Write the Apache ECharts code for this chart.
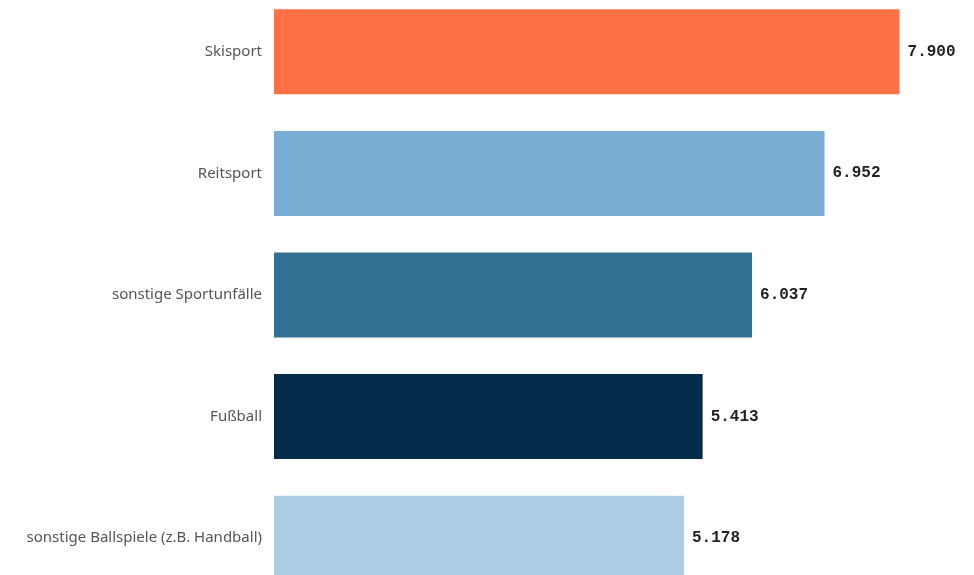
<!DOCTYPE html>
<html><head><meta charset="utf-8">
<script src="https://cdn.jsdelivr.net/npm/echarts@6/dist/echarts.min.js"></script>
<style>html,body{margin:0;padding:0;background:#fff;overflow:hidden;width:974px;height:575px}#c{position:absolute;left:0;top:-9px;width:974px;height:608px}</style>
</head><body><div id="c"></div>
<script>
const categories = ["Skisport","Reitsport","sonstige Sportunfälle","Fußball","sonstige Ballspiele (z.B. Handball)"];
const values = [7.900, 6.952, 6.037, 5.413, 5.178];
const labels = ["7.900","6.952","6.037","5.413","5.178"];
const colors = ["#ff7045","#78acd2","#327194","#022c4a","#abcee4"];

const chart = echarts.init(document.getElementById('c'));
chart.setOption({
  animation:false,
  grid:{left:274, right:0, top:0, bottom:0, containLabel:false},
  xAxis:{type:'value', min:0, max:8.84, show:false},
  yAxis:{type:'category', data:categories, inverse:true,
    axisLine:{show:false}, axisTick:{show:false},
    axisLabel:{color:'#555', fontSize:15, fontFamily:'"Noto Sans", "Open Sans", sans-serif', margin:12}},
  series:[{type:'bar', barWidth:85,
    data: values.map((v,i)=>({value:v, itemStyle:{color:colors[i]}, label:{formatter:labels[i]}})),
    label:{show:true, position:'right', distance:8, color:'#222', fontSize:16, fontWeight:'bold',
      fontFamily:'"Liberation Mono", "DejaVu Sans Mono", monospace'}
  }]
});
</script></body></html>
